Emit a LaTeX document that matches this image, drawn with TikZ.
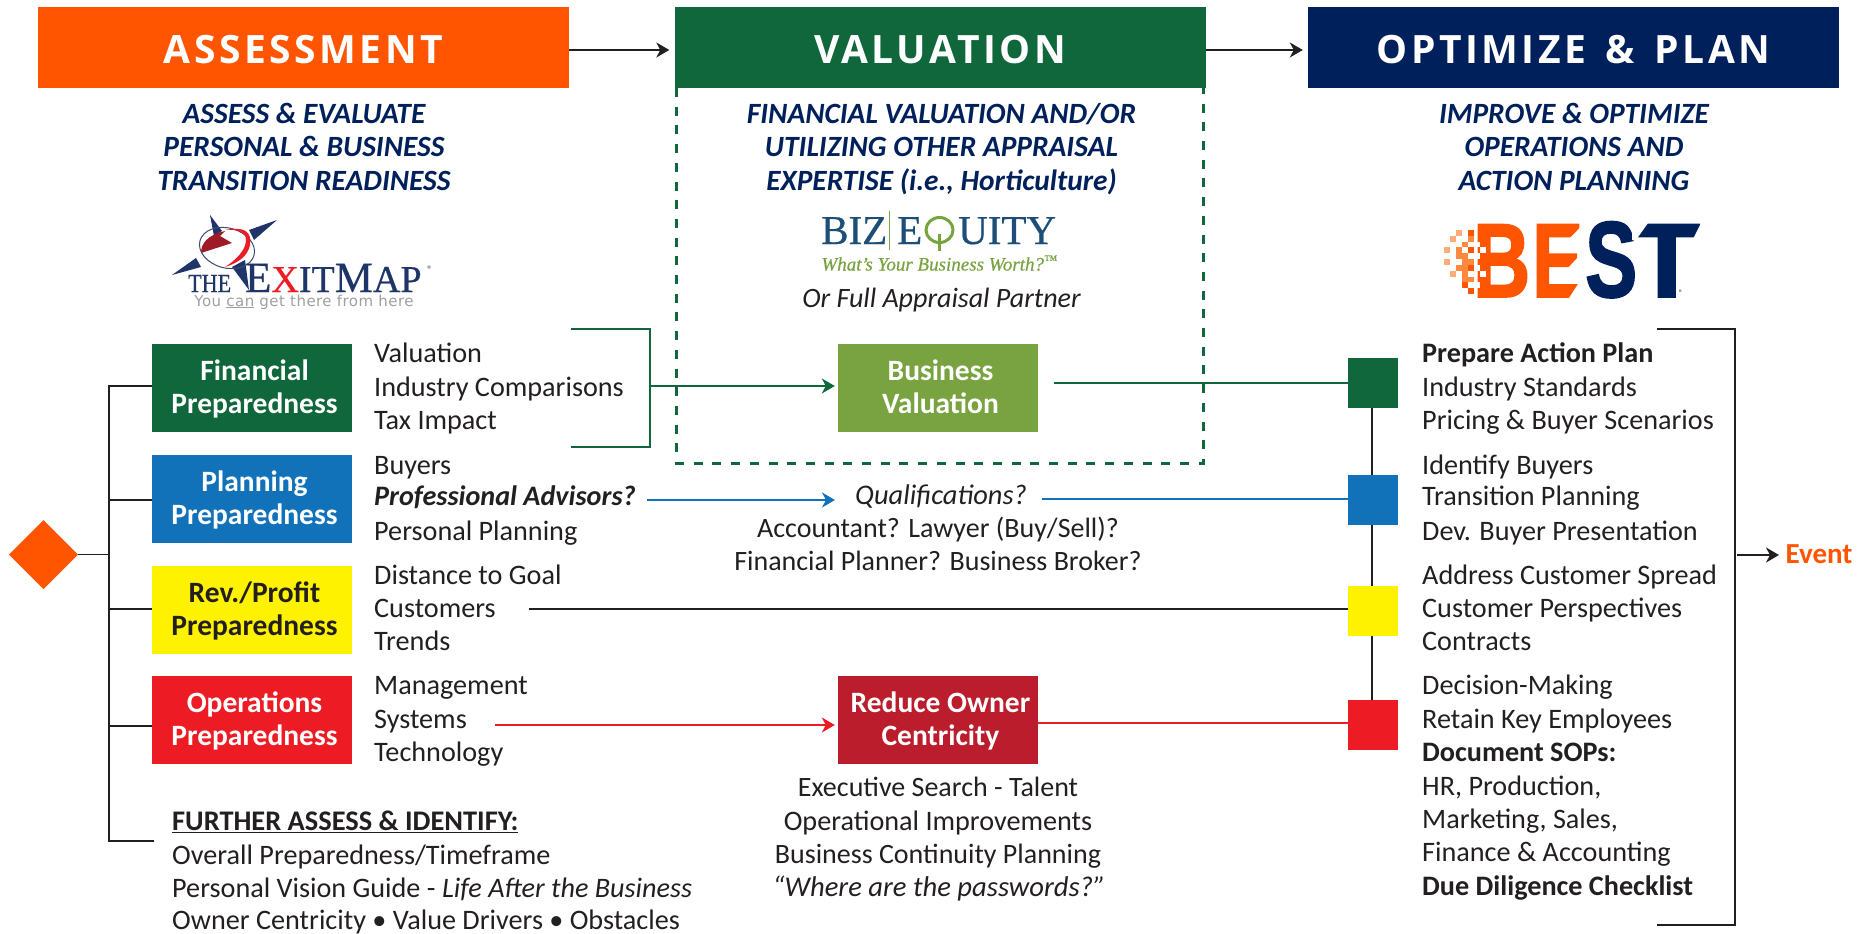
\documentclass[tikz,border=0pt]{standalone}
\usepackage{fontspec}
\usepackage{graphicx}
\setmainfont{Carlito}
\newfontfamily\headf[LetterSpace=9]{Open Sans}
\newfontfamily\ser[FakeBold=0.5]{Liberation Serif}
\newfontfamily\tagf[LetterSpace=3]{DejaVu Sans}
\newfontfamily\logof[BoldFeatures={FakeBold=2}]{Liberation Sans}
\usetikzlibrary{arrows.meta}
\definecolor{cOrange}{HTML}{FF5500}
\definecolor{cMid}{HTML}{FF8A3D}
\definecolor{cLight}{HTML}{FFAB76}
\definecolor{cGreen}{HTML}{10673B}
\definecolor{cNavy}{HTML}{00205B}
\definecolor{cBlue}{HTML}{1172BA}
\definecolor{cYellow}{HTML}{FFF200}
\definecolor{cRed}{HTML}{ED1C24}
\definecolor{cOlive}{HTML}{78A340}
\definecolor{cDRed}{HTML}{BB1D2D}
\definecolor{cText}{HTML}{231F20}
\definecolor{cBiz}{HTML}{1C4E78}
\definecolor{cExit}{HTML}{1F3468}
\newcommand\sh{\hspace*{5pt}}
\newcommand\tl{\rule{0pt}{28.3pt}}
\newcommand\hd[1]{\raisebox{-16pt}[0pt][0pt]{#1}}
\tikzset{
 x=1pt,y=-1pt,
 headbox/.style={rectangle,minimum width=531pt,minimum height=81.5pt,inner sep=0pt,text=white,font=\fontsize{39}{39}\selectfont\headf\bfseries},
 subhead/.style={align=center,text=cNavy,font=\fontsize{29.4}{33.5}\selectfont\bfseries\itshape},
 prepbox/.style={rectangle,minimum width=200pt,minimum height=88pt,inner sep=0pt,align=center,text=white,font=\fontsize{29.5}{33.5}\selectfont\bfseries},
 itemtxt/.style={anchor=base west,inner sep=0pt,text=cText,font=\fontsize{28.2}{28}\selectfont},
 midtxt/.style={anchor=base,inner sep=0pt,text=cText,font=\fontsize{28}{28}\selectfont},
 sq/.style={rectangle,minimum width=50pt,minimum height=50pt,inner sep=0pt},
 conn/.style={line width=1.6pt},
 tip/.style={-{Stealth[length=13pt,width=15pt,inset=4pt]}},
}
\begin{document}
\begin{tikzpicture}
\useasboundingbox (0,0) rectangle (1866,934);
% headers
\node[headbox,fill=cOrange] (h1) at (303.5,47.5) {\hd{ASSESSMENT}};
\node[headbox,fill=cGreen] (h2) at (940,47.5) {\hd{VALUATION}};
\node[headbox,fill=cNavy] (h3) at (1573.5,47.5) {\hd{OPTIMIZE\hspace{6pt} \&\hspace{6pt} PLAN}};
\draw[conn,cText,tip,shorten >=5pt] (h1.east |- 0,50) -- (h2.west |- 0,50);
\draw[conn,cText,tip,shorten >=5pt] (h2.east |- 0,50) -- (h3.west |- 0,50);
% dashed valuation frame
\draw[cGreen,line width=3pt,dash pattern=on 9pt off 9.7pt] (676,88) -- (676,463) -- (1203.5,463) -- (1203.5,88);
% subheads
\node[subhead] (s1) at (304,150) {\strut ASSESS \& EVALUATE\\\strut PERSONAL \& BUSINESS\\\strut TRANSITION READINESS};
\node[subhead] (s2) at (941.5,150) {\strut FINANCIAL VALUATION AND/OR\\\strut UTILIZING OTHER APPRAISAL\\\strut EXPERTISE (i.e., Horticulture)};
\node[subhead] (s3) at (1574,150) {\strut IMPROVE \& OPTIMIZE\\\strut OPERATIONS AND\\\strut ACTION PLANNING};
% prep boxes
\node[prepbox,fill=cGreen] (fin) at (252,388) {\sh\tl Financial\\\sh\strut Preparedness};
\node[prepbox,fill=cBlue] (pla) at (252,499) {\sh\tl Planning\\\sh\strut Preparedness};
\node[prepbox,fill=cYellow,text=cText] (rev) at (252,610) {\sh\tl Rev./Profit\\\sh\strut Preparedness};
\node[prepbox,fill=cRed] (ops) at (252,720) {\sh\tl Operations\\\sh\strut Preparedness};
\node[prepbox,fill=cOlive] (biz) at (938,388) {\sh\tl Business\\\sh\strut Valuation};
\node[prepbox,fill=cDRed] (red) at (938,720) {\sh\tl Reduce Owner\\\sh\strut Centricity};
% squares
\node[sq,fill=cGreen] (q1) at (1373,383) {};
\node[sq,fill=cBlue] (q2) at (1373,500) {};
\node[sq,fill=cYellow] (q3) at (1373,611) {};
\node[sq,fill=cRed] (q4) at (1373,725) {};
\draw[conn,cText] ([xshift=-1pt]q1.south) -- ([xshift=-1pt]q2.north);
\draw[conn,cText] ([xshift=-1pt]q2.south) -- ([xshift=-1pt]q3.north);
\draw[conn,cText] ([xshift=-1pt]q3.south) -- ([xshift=-1pt]q4.north);
% diamond and bus
\fill[cOrange] (9,554.5) -- (43.5,520) -- (78,554.5) -- (43.5,589) -- cycle;
\coordinate (dia) at (78,554.5);
\coordinate (further) at (154,841);
\draw[conn,cText] (dia) -- (109,554.5);
\draw[conn,cText] (fin.west |- 0,386) -- (109,386) -- (109,841) -- (further);
\draw[conn,cText] (pla.west |- 0,500) -- (109,500);
\draw[conn,cText] (rev.west |- 0,609) -- (109,609);
\draw[conn,cText] (ops.west |- 0,726) -- (109,726);
% left item texts
\foreach \t/\y in {Valuation/362,Industry Comparisons/396,Tax Impact/429,Buyers/474,Personal Planning/540,Distance to Goal/584,Customers/617,Trends/650,Management/694,Systems/728,Technology/761}
  \node[itemtxt] at (374,\y) {\t};
\node[itemtxt,font=\fontsize{28.2}{28}\selectfont\bfseries\itshape] at (374,505.7) {Professional Advisors?};
% further
\node[itemtxt,font=\fontsize{28.4}{28}\selectfont\bfseries] at (172,830.7) {\underline{FURTHER ASSESS \& IDENTIFY:}};
\node[itemtxt] at (172,864) {Overall Preparedness/Timeframe};
\node[itemtxt] at (172,897) {Personal Vision Guide - \textit{Life After the Business}};
\node[itemtxt] at (172,929) {Owner Centricity \textbullet{} Value Drivers \textbullet{} Obstacles};
% middle
\node[midtxt,font=\fontsize{28}{28}\selectfont\itshape] at (941.5,307) {Or Full Appraisal Partner};
\node[midtxt,font=\fontsize{28.4}{28}\selectfont\itshape] at (941,504) {Qualifications?};
\node[midtxt] at (938,537) {Accountant? Lawyer (Buy/Sell)?};
\node[midtxt] at (938,570) {Financial Planner? Business Broker?};
\node[midtxt] at (938,796) {Executive Search - Talent};
\node[midtxt,font=\fontsize{28.2}{28}\selectfont] at (938,830) {Operational Improvements};
\node[midtxt] at (938,863) {Business Continuity Planning};
\node[midtxt,font=\fontsize{28.6}{28}\selectfont\itshape] at (939,896) {“Where are the passwords?”};
% right list
\foreach \t/\y in {Industry Standards/396,Pricing \& Buyer Scenarios/429,Identify Buyers/474,Transition Planning/505.7,Dev. Buyer Presentation/540,Address Customer Spread/584,Customer Perspectives/617,Contracts/650,Decision-Making/694,Retain Key Employees/728,{HR, Production,}/795,{Marketing, Sales,}/828,Finance \& Accounting/861}
  \node[itemtxt] at (1422,\y) {\t};
\node[itemtxt,font=\fontsize{28.2}{28}\selectfont\bfseries] at (1422,362) {Prepare Action Plan};
\node[itemtxt,font=\fontsize{28.2}{28}\selectfont\bfseries] at (1422,761) {Document SOPs:};
\node[itemtxt,font=\fontsize{28.2}{28}\selectfont\bfseries] at (1422,895) {Due Diligence Checklist};
% connectors
\coordinate (gb1) at (571,329); \coordinate (gb2) at (571,447);
\draw[conn,cGreen] (gb1) -- (650,329) -- (650,447) -- (gb2);
\draw[conn,cGreen,tip,shorten >=3pt] (650,386) -- (biz.west |- 0,386);
\coordinate (bv) at (1054,383);
\draw[conn,cGreen] (bv) -- (q1.west);
\coordinate (a1) at (647,500); \coordinate (a2) at (835,500); \coordinate (a3) at (1041.5,499);
\draw[conn,cBlue,tip] (a1) -- (a2);
\draw[conn,cBlue] (a3) -- (q2.west |- a3);
\coordinate (b1) at (528.6,609);
\draw[conn,cText] (b1) -- (q3.west |- b1);
\coordinate (r1) at (495,725);
\draw[conn,cRed,tip,shorten >=3pt] (r1) -- (red.west |- r1);
\draw[conn,cRed] (red.east |- 0,722.7) -- (q4.west |- 0,722.7);
\coordinate (rb1) at (1657,329); \coordinate (rb2) at (1657,925);
\draw[line width=2pt,cText] (rb1) -- (1735,329) -- (1735,925) -- (rb2);
\node[anchor=base west,inner sep=0pt,text=cOrange,font=\fontsize{29}{29}\selectfont\bfseries] (ev) at (1785.5,563) {Event};
\coordinate (evt) at (1779,555);
\draw[conn,cText,tip] (1737,555) -- (evt);
% ---- ExitMap logo
\fill[cExit] (210,215) -- (222,231) -- (214,236) -- cycle;
\fill[cExit] (277,220) -- (249,230) -- (254,240) -- cycle;
\fill[cExit] (172,275) -- (196,258) -- (201,267) -- cycle;
\fill[cExit] (249,290) -- (232,267) -- (245,260) -- cycle;
\draw[cExit!70!gray,line width=1pt,rotate around={-15:(227,248)}] (227,248) ellipse [x radius=28,y radius=20];
\fill[cDRed!85!black] (201,253) .. controls (201,243) and (208,235) .. (225,231) -- (220,236) -- (232,243) -- cycle;
\fill[cRed] (225,230) .. controls (245,226) and (252,232) .. (250,245) .. controls (248,256) and (238,263) .. (225,267) .. controls (236,260) and (246,250) .. (246,240) .. controls (246,232) and (238,229) .. (225,230) -- cycle;
\node[anchor=base west,inner sep=0pt,text=cExit,font=\fontsize{26}{26}\selectfont\ser] (ex1) at (188,292) {\scalebox{.85}[1]{THE}};
\node[anchor=base west,inner sep=0pt,font=\ser] (ex2) at (245,292) {\textcolor{cExit}{\fontsize{43}{43}\selectfont E}\textcolor{cRed}{\fontsize{38}{38}\selectfont X}\textcolor{cExit}{\fontsize{38}{38}\selectfont IT\fontsize{43}{43}\selectfont M\fontsize{38}{38}\selectfont AP}};
\node[inner sep=0pt,text=cExit!60!gray,font=\fontsize{11}{11}\selectfont] (ex3) at (430,270) {®};
\node[anchor=base,inner sep=0pt,text=gray!75,font=\fontsize{15}{15}\selectfont\tagf] (ex4) at (304,306) {You \underline{can} get there from here};
% ---- BizEquity logo
\node[anchor=base west,inner sep=0pt,text=cBiz,font=\fontsize{41}{41}\selectfont\ser] (z1) at (821,244) {BIZ};
\draw[cOlive,line width=1pt] (889,211) -- (889,250);
\node[anchor=base west,inner sep=0pt,text=cBiz,font=\fontsize{41}{41}\selectfont\ser] (z2) at (897,244) {E};
\draw[cOlive,line width=3pt] (939.5,230) ellipse [x radius=13.5,y radius=12.5];
\draw[cOlive,line width=3pt] (939.5,234) -- (939.5,251);
\node[anchor=base west,inner sep=0pt,text=cBiz,font=\fontsize{41}{41}\selectfont\ser] (z3) at (958,244) {UITY};
\node[anchor=base,inner sep=0pt,text=cOlive,font=\fontsize{19}{19}\selectfont\ser\itshape] (z4) at (939.5,270.5) {What’s Your Business Worth?\textsuperscript{™}};
% ---- BEST logo
\node[anchor=south west,inner sep=0pt,text=cOrange,font=\logof\bfseries] (bB) at (1473,297) {\resizebox{57pt}{72pt}{B}};
\node[anchor=south west,inner sep=0pt,text=cOrange,font=\logof\bfseries] (bE) at (1532,297) {\resizebox{51pt}{72pt}{E}};
\fill[white] (1584.5,223) -- (1568,240) -- (1584.5,240) -- cycle;
\fill[white] (1584.5,250) -- (1568,268) -- (1584.5,268) -- cycle;
\fill[white] (1584.5,274) -- (1569,298) -- (1584.5,298) -- cycle;
\node[anchor=south west,inner sep=0pt,text=cNavy,font=\logof\bfseries] (bS) at (1585,298) {\resizebox{52pt}{75pt}{S}};
\node[anchor=south west,inner sep=0pt,text=cNavy,font=\logof\bfseries] (bT) at (1633,297) {\resizebox{67pt}{72pt}{T}};
\fill[white] (1632,223) -- (1648,223) -- (1636,240) -- (1632,240) -- cycle;
\fill[white] (1701,223) -- (1692.5,240) -- (1701,240) -- cycle;
\node[inner sep=0pt,text=cNavy,font=\fontsize{8}{8}\selectfont] (bR) at (1681,293) {®};
\foreach \c/\r in {2/0,1/1,0/3,0/5,1/7}
  \fill[cLight] ({1444+6*\c},{230+5.83*\r}) rectangle +(6,5.83);
\foreach \c/\r in {3/2,2/3,2/4,3/4,3/5,4/5,2/6,3/6,3/7,3/8,4/8,4/1}
  \fill[cMid] ({1444+6*\c},{230+5.83*\r}) rectangle +(6,5.83);
\foreach \c/\r in {4/0,3/9,4/10,4/3,4/6}
  \fill[cOrange] ({1444+6*\c},{230+5.83*\r}) rectangle +(6,5.83);
\foreach \c/\r in {5/2,5/4,6/3,5/6,6/7,5/9}
  \fill[white] ({1444+6*\c},{230+5.83*\r}) rectangle +(6,5.83);
\end{tikzpicture}
\end{document}
